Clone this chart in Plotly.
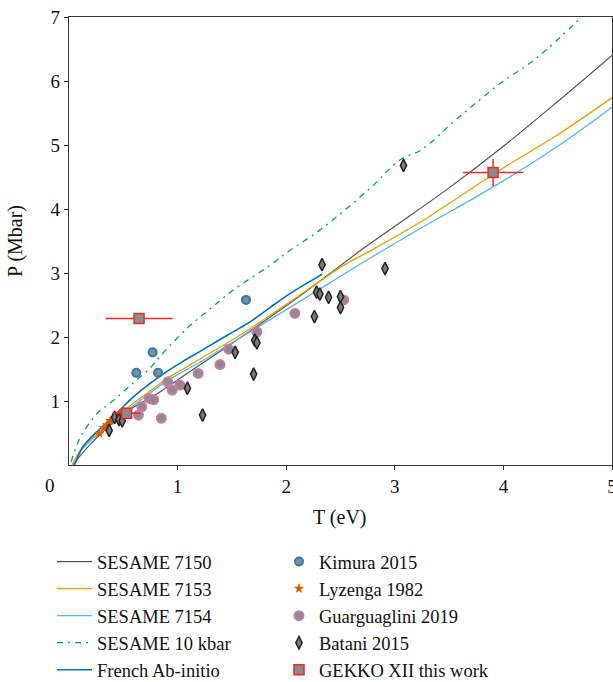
import plotly.graph_objects as go

# ---- data ----
T_7150 = [0.03, 0.1, 0.2, 0.3, 0.4, 0.5, 0.6, 0.8, 1.0, 1.2, 1.5, 1.8, 2.1, 2.4, 2.7, 3.0, 3.5, 4.0, 4.5, 5.0]
P_7150 = [0.0, 0.14, 0.33, 0.5, 0.65, 0.79, 0.91, 1.10, 1.33, 1.56, 1.90, 2.25, 2.61, 2.99, 3.37, 3.73, 4.33, 4.98, 5.68, 6.40]

T_7153 = [0.03, 0.1, 0.2, 0.29, 0.4, 0.59, 0.75, 0.9, 1.05, 1.21, 1.51, 1.82, 2.13, 2.31, 2.54, 2.8, 3.24, 3.36, 3.97, 4.5, 5.0]
P_7153 = [0.0, 0.22, 0.40, 0.53, 0.70, 0.96, 1.16, 1.35, 1.50, 1.66, 1.96, 2.30, 2.66, 2.87, 3.13, 3.37, 3.80, 3.93, 4.61, 5.16, 5.74]

T_7154 = [0.05, 0.1, 0.2, 0.29, 0.4, 0.59, 0.75, 0.9, 1.05, 1.21, 1.51, 1.82, 2.13, 2.31, 2.77, 3.24, 3.91, 4.5, 5.0]
P_7154 = [0.0, 0.20, 0.38, 0.51, 0.68, 0.92, 1.13, 1.31, 1.46, 1.61, 1.92, 2.24, 2.56, 2.75, 3.23, 3.70, 4.35, 4.98, 5.59]

T_10k = [0.02, 0.1, 0.19, 0.28, 0.38, 0.59, 0.75, 0.84, 1.09, 1.3, 1.51, 1.85, 2.04, 2.31, 2.77, 3.05, 3.24, 3.6, 3.97, 4.3, 4.75]
P_10k = [0.05, 0.42, 0.66, 0.84, 0.97, 1.28, 1.52, 1.70, 2.14, 2.44, 2.73, 3.12, 3.36, 3.67, 4.32, 4.77, 4.92, 5.45, 5.96, 6.35, 7.05]

T_french = [0.05, 0.13, 0.2, 0.29, 0.44, 0.59, 0.75, 0.9, 1.05, 1.21, 1.36, 1.51, 1.67, 1.85, 2.0, 2.13, 2.25, 2.33]
P_french = [0.0, 0.29, 0.43, 0.57, 0.81, 1.06, 1.28, 1.46, 1.62, 1.78, 1.93, 2.08, 2.24, 2.46, 2.64, 2.78, 2.90, 2.98]

T_kimura = [0.62, 0.77, 0.82, 1.63]
P_kimura = [1.44, 1.76, 1.44, 2.58]

T_lyzenga = [0.28, 0.32, 0.35, 0.38, 0.44, 0.47]
P_lyzenga = [0.49, 0.58, 0.62, 0.69, 0.76, 0.80]

T_guarg = [0.64, 0.67, 0.74, 0.78, 0.85, 0.91, 0.95, 1.02, 1.19, 1.39, 1.47, 1.73, 2.08, 2.53]
P_guarg = [0.78, 0.91, 1.04, 1.02, 0.73, 1.30, 1.17, 1.25, 1.43, 1.57, 1.81, 2.08, 2.37, 2.58]

T_batani = [0.37, 0.42, 0.46, 0.49, 1.09, 1.23, 1.53, 1.70, 1.71, 1.73, 2.26, 2.28, 2.31, 2.33, 2.39, 2.50, 2.50, 2.91, 3.08]
P_batani = [0.54, 0.745, 0.71, 0.69, 1.20, 0.78, 1.76, 1.42, 1.95, 1.91, 2.32, 2.70, 2.67, 3.13, 2.62, 2.63, 2.46, 3.07, 4.68]

T_gekko = [0.53, 0.645, 3.905]
P_gekko = [0.81, 2.29, 4.57]
T_gekko_err = [0.13, 0.31, 0.28]
P_gekko_err = [0.0, 0.0, 0.21]

x_ticks = [1, 2, 3, 4, 5]
y_ticks = [1, 2, 3, 4, 5, 6, 7]

FONT = "Liberation Serif"
W, H = 613, 682
ML, MR, MT, MB = 69, 1, 17, 217

fig = go.Figure()

def line(x, y, name, color, width=1.3, dash="solid"):
    fig.add_trace(go.Scatter(x=x, y=y, mode="lines", name=name,
                             line=dict(color=color, width=width, dash=dash),
                             legend="legend", line_shape="spline"))

line(T_7150, P_7150, "SESAME 7150", "#555555", width=1.2)
line(T_7153, P_7153, "SESAME 7153", "#E69F00")
line(T_7154, P_7154, "SESAME 7154", "#56B4E9")
line(T_10k, P_10k, "SESAME 10 kbar", "#009E73", dash="6px,5px,2px,5px")
line(T_french, P_french, "French Ab-initio", "#0072B2", width=1.6)

def pts(x, y, name, marker, **kw):
    fig.add_trace(go.Scatter(x=x, y=y, mode="markers", name=name,
                             marker=marker, legend="legend2", **kw))

pts(T_kimura, P_kimura, "Kimura 2015",
    dict(symbol="circle", size=8, color="#8c8c8c", line=dict(color="#2b7bba", width=2)))
pts(T_lyzenga, P_lyzenga, "Lyzenga 1982",
    dict(symbol="star", size=8, color="#D55E00", line=dict(color="#D55E00", width=0)))
pts(T_guarg, P_guarg, "Guarguaglini 2019",
    dict(symbol="circle", size=9, color="#8c8c8c", line=dict(color="#CC79A7", width=2)))
pts(T_batani, P_batani, "Batani 2015",
    dict(symbol="diamond-tall", size=9, color="#7a7a7a", line=dict(color="#222222", width=1.5)))
pts(T_gekko, P_gekko, "GEKKO XII this work",
    dict(symbol="square", size=10, color="#8a8a8a", line=dict(color="#EE2A2A", width=1.5)),
    error_x=dict(type="data", array=T_gekko_err, color="#EE2A2A", thickness=1.5, width=0),
    error_y=dict(type="data", array=P_gekko_err, color="#EE2A2A", thickness=1.5, width=0))

axis_common = dict(showline=True, linecolor="#333333", linewidth=1.3, mirror=True,
                   ticks="outside", ticklen=4, tickcolor="#333333", tickwidth=1.3,
                   showgrid=False, zeroline=False, automargin=False,
                   ticklabeloverflow="allow",
                   tickfont=dict(family=FONT, size=19, color="#111111"))

leg_common = dict(xref="container", yref="container", xanchor="left", yanchor="top",
                  bgcolor="rgba(0,0,0,0)", font=dict(family=FONT, size=18.5))

fig.update_layout(
    width=W, height=H,
    margin=dict(l=ML, r=MR, t=MT, b=MB, autoexpand=False),
    paper_bgcolor="white", plot_bgcolor="white",
    font=dict(family=FONT, size=19, color="#111111"),
    xaxis=dict(range=[0, 5], tickvals=x_ticks, ticktext=[str(v) for v in x_ticks], **axis_common),
    yaxis=dict(range=[0, 7], tickvals=y_ticks, ticktext=[str(v) for v in y_ticks], **axis_common),
    legend=dict(x=52 / W, y=1 - 543 / H, itemwidth=35, **leg_common),
    legend2=dict(x=279 / W, y=1 - 543 / H, itemwidth=30, **leg_common),
    showlegend=True,
)

def px_to_paper(px, py):
    return (px - ML) / (W - ML - MR), (H - MB - py) / (H - MT - MB)

fig.add_annotation(x=0, y=0, xref="x", yref="y", text="0", showarrow=False,
                   xshift=-19, yshift=-20, font=dict(family=FONT, size=19, color="#111111"))
tx, ty = px_to_paper(340, 517)
fig.add_annotation(x=tx, y=ty, xref="paper", yref="paper", text="T (eV)",
                   showarrow=False, xanchor="center", yanchor="middle",
                   font=dict(family=FONT, size=20, color="#111111"))
px_, py_ = px_to_paper(15, 241)
fig.add_annotation(x=px_, y=py_, xref="paper", yref="paper", text="P (Mbar)",
                   showarrow=False, textangle=-90, xanchor="center", yanchor="middle",
                   font=dict(family=FONT, size=20, color="#111111"))

fig.write_html("out.html", config={"displayModeBar": False},
               post_script="document.body.style.margin='0';document.body.style.padding='0';")
